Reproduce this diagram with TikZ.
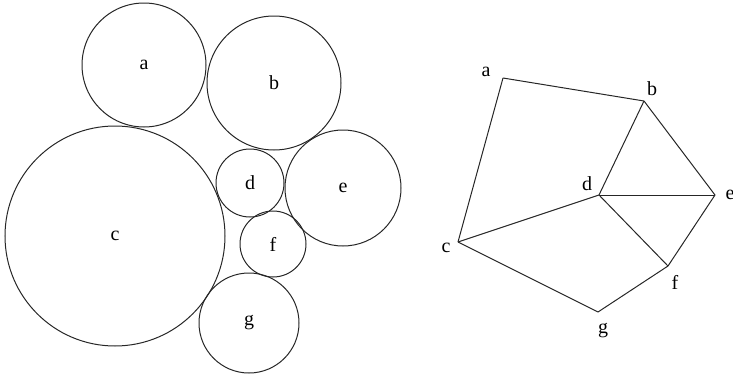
\documentclass[tikz,border=0pt]{standalone}
\usepackage{fontspec}
\setmainfont{Liberation Serif}
\usetikzlibrary{positioning}

\begin{document}
\begin{tikzpicture}[
  x=0.75pt, y=-0.75pt,
  disk/.style={circle, draw=black!85, line width=0.75pt, inner sep=0pt,
               minimum size=#1*1.5pt, font=\fontsize{15}{17}\selectfont},
  vlabel/.style={inner sep=0pt, font=\fontsize{15}{17}\selectfont},
  edge/.style={line width=0.75pt, draw=black!85}
]
  \useasboundingbox (0,0) rectangle (733,379);

  % circle packing
  \node[disk=62]  (ca) at (144,65)  {a};
  \node[disk=67]  (cb) at (274,83)  {b};
  \node[disk=110] (cc) at (115,236) {c};
  \node[disk=34]  (cd) at (250,183) {d};
  \node[disk=58]  (ce) at (343,188) {e};
  \node[disk=33]  (cf) at (273,244) {f};
  \node[disk=50]  (cg) at (249,323) {g};

  % contact graph
  \coordinate (va) at (503,78);
  \coordinate (vb) at (644,101);
  \coordinate (vc) at (458,242);
  \coordinate (vd) at (599,195);
  \coordinate (ve) at (715,195);
  \coordinate (vf) at (668,266);
  \coordinate (vg) at (598,312);

  \node[vlabel] (la) at (486,72)  {a};
  \node[vlabel] (lb) at (652,89)  {b};
  \node[vlabel] (lc) at (446,248) {c};
  \node[vlabel] (ld) at (587,184) {d};
  \node[vlabel] (le) at (730,195) {e};
  \node[vlabel] (lf) at (675,282) {f};
  \node[vlabel] (lg) at (603,331) {g};

  \draw[edge] (va) -- (vb);
  \draw[edge] (va) -- (vc);
  \draw[edge] (vb) -- (vd);
  \draw[edge] (vb) -- (ve);
  \draw[edge] (vd) -- (ve);
  \draw[edge] (vc) -- (vd);
  \draw[edge] (vd) -- (vf);
  \draw[edge] (ve) -- (vf);
  \draw[edge] (vc) -- (vg);
  \draw[edge] (vg) -- (vf);
\end{tikzpicture}
\end{document}
